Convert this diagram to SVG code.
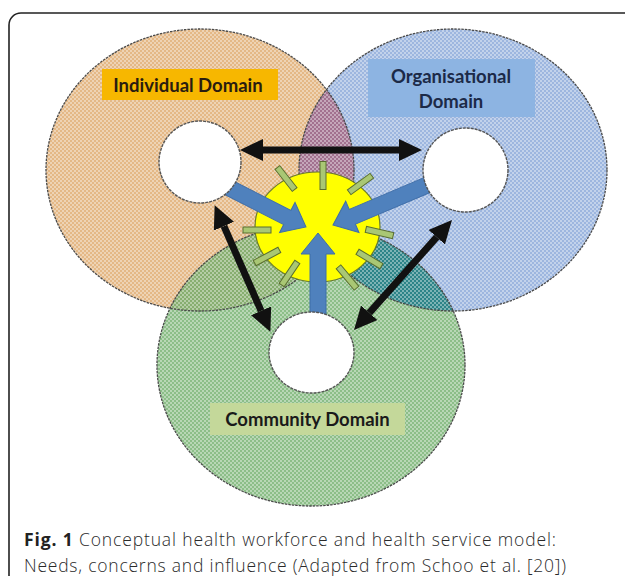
<svg xmlns="http://www.w3.org/2000/svg" xmlns:xlink="http://www.w3.org/1999/xlink" width="625" height="576" viewBox="0 0 625 576">
  <defs>
    <style>
      .outline { fill: none; stroke: #4a4a4a; stroke-width: 1.3; stroke-dasharray: 2.5 1; }
      .hole { fill: #ffffff; stroke: #555; stroke-width: 1.4; stroke-dasharray: 3 1; }
      .lbl { font-family: Lato, "Liberation Sans", sans-serif; font-weight: bold; font-size: 18.5px; }
      .cap { font-family: "Open Sans", "Liberation Sans", sans-serif; font-weight: 300; font-size: 17.5px; fill: #2a2a2a; }
      .rod { fill: #a9c774; stroke: #5a6e30; stroke-width: 1; }
      .blk { fill: #4f81bd; stroke: #3f6ea8; stroke-width: 1; }
      .bline { stroke: #111; stroke-width: 7; fill: none; }
    </style>
    <pattern id="chk" width="4" height="4" patternUnits="userSpaceOnUse">
      <rect width="2" height="2" fill="#ffffff" fill-opacity="0.38"/>
      <rect x="2" y="2" width="2" height="2" fill="#ffffff" fill-opacity="0.38"/>
    </pattern>
    <clipPath id="cOrange"><ellipse cx="200" cy="170" rx="154" ry="141"/></clipPath>
    <clipPath id="cBlue"><ellipse cx="453" cy="170" rx="154" ry="141"/></clipPath>
    <marker id="ah" viewBox="0 -11 23 22" refX="0" refY="0" markerWidth="23" markerHeight="22" markerUnits="userSpaceOnUse" orient="auto-start-reverse">
      <path d="M0,-11 L23,0 L0,11 Z" fill="#111"/>
    </marker>
    <path id="blockArrow" d="M0,0 L-21,-17 L-21,-8 L-110,-8 L-110,8 L-21,8 L-21,17 Z"/>
    <rect id="rodShape" x="-14" y="-3" width="28" height="6"/>
  </defs>

  <!-- frame -->
  <path d="M9,600 V25 A12,12 0 0 1 21,13 H640" fill="none" stroke="#222" stroke-width="1.6"/>

  <!-- domains -->
  <g id="individual-domain">
    <ellipse cx="200" cy="170" rx="154" ry="141" fill="#e4b886"/>
  </g>
  <g id="organisational-domain">
    <ellipse cx="453" cy="170" rx="154" ry="141" fill="#9db6df"/>
  </g>
  <g id="community-domain">
    <ellipse cx="311" cy="365" rx="154" ry="141" fill="#8cbe88"/>
  </g>
  <g id="overlaps">
    <ellipse cx="200" cy="170" rx="154" ry="141" fill="#a2718f" clip-path="url(#cBlue)"/>
    <ellipse cx="311" cy="365" rx="154" ry="141" fill="#87ae70" clip-path="url(#cOrange)"/>
    <ellipse cx="311" cy="365" rx="154" ry="141" fill="#2d8488" clip-path="url(#cBlue)"/>
  </g>
  <path d="M46,170 a154,141 0 1,0 308,0 a154,141 0 1,0 -308,0 Z M299,170 a154,141 0 1,0 308,0 a154,141 0 1,0 -308,0 Z M157,365 a154,141 0 1,0 308,0 a154,141 0 1,0 -308,0 Z" fill="url(#chk)"/>
  <g id="domain-outlines">
    <ellipse class="outline" cx="200" cy="170" rx="154" ry="141"/>
    <ellipse class="outline" cx="453" cy="170" rx="154" ry="141"/>
    <ellipse class="outline" cx="311" cy="365" rx="154" ry="141"/>
  </g>

  <!-- central influence circle -->
  <g id="centre">
    <ellipse cx="317.5" cy="227" rx="62.5" ry="55" fill="#ffff00" stroke="#6b7b2b" stroke-width="1.2"/>
    <use xlink:href="#rodShape" class="rod" transform="translate(323,175.5) rotate(90)"/>
    <use xlink:href="#rodShape" class="rod" transform="translate(286,178.5) rotate(52)"/>
    <use xlink:href="#rodShape" class="rod" transform="translate(360.5,184) rotate(-36)"/>
    <use xlink:href="#rodShape" class="rod" transform="translate(257,230) rotate(0)"/>
    <use xlink:href="#rodShape" class="rod" transform="translate(379.5,232.5) rotate(13)"/>
    <use xlink:href="#rodShape" class="rod" transform="translate(267,256.5) rotate(-28)"/>
    <use xlink:href="#rodShape" class="rod" transform="translate(289.5,273.5) rotate(-56)"/>
    <use xlink:href="#rodShape" class="rod" transform="translate(369.5,259) rotate(31)"/>
    <use xlink:href="#rodShape" class="rod" transform="translate(347.5,277.5) rotate(50)"/>
  </g>

  <!-- blue influence arrows -->
  <g id="influence-arrows">
    <use xlink:href="#blockArrow" class="blk" transform="translate(306,227) rotate(27)"/>
    <use xlink:href="#blockArrow" class="blk" transform="translate(333,225) rotate(157)"/>
    <use xlink:href="#blockArrow" class="blk" transform="translate(318,233) rotate(-90)"/>
  </g>

  <!-- holes -->
  <g id="individual-hole"><ellipse class="hole" cx="200" cy="162" rx="41" ry="41"/></g>
  <g id="organisational-hole"><ellipse class="hole" cx="465.5" cy="170" rx="42.5" ry="42"/></g>
  <g id="community-hole"><ellipse class="hole" cx="311.5" cy="352.5" rx="42.5" ry="40.5"/></g>

  <!-- labels -->
  <g id="individual-label">
    <rect x="102" y="69" width="176" height="31" fill="#f7b700"/>
    <text class="lbl" x="188" y="92" text-anchor="middle" fill="#2a1c10">Individual Domain</text>
  </g>
  <g id="organisational-label">
    <rect x="368" y="59" width="167" height="58" fill="#8db4e2"/>
    <text class="lbl" x="451" y="83" text-anchor="middle" fill="#1c2a48">Organisational</text>
    <text class="lbl" x="451" y="108" text-anchor="middle" fill="#1c2a48">Domain</text>
  </g>
  <g id="community-label">
    <rect x="210" y="403" width="195" height="32" fill="#c4d89a"/>
    <text class="lbl" x="307.5" y="426" text-anchor="middle" fill="#1a1a1a">Community Domain</text>
  </g>

  <!-- relationship connectors -->
  <g id="connectors">
    <line class="bline" x1="263" y1="150" x2="399" y2="150" marker-start="url(#ah)" marker-end="url(#ah)"/>
    <line class="bline" x1="223.9" y1="226.2" x2="261.1" y2="310.8" marker-start="url(#ah)" marker-end="url(#ah)"/>
    <line class="bline" x1="369.3" y1="312.8" x2="436.7" y2="237.2" marker-start="url(#ah)" marker-end="url(#ah)"/>
  </g>

  <!-- caption -->
  <g id="caption">
    <text class="cap" x="24" y="546" textLength="532" lengthAdjust="spacing"><tspan font-weight="bold" fill="#222">Fig. 1</tspan> Conceptual health workforce and health service model:</text>
    <text class="cap" x="24" y="572" textLength="542" lengthAdjust="spacing">Needs, concerns and influence (Adapted from Schoo et al. [20])</text>
  </g>
</svg>
